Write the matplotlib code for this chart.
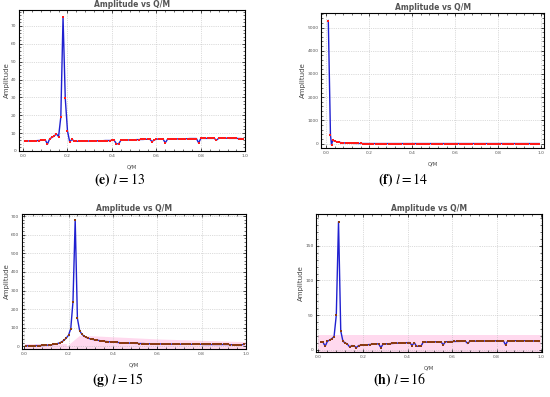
import numpy as np
import matplotlib.pyplot as plt
from matplotlib.ticker import AutoMinorLocator

# Q/M sample positions (0.01 .. 0.99)
qm = [round(0.01 * i, 2) for i in range(1, 100)]

# (e) l = 13
amp_13 = [5.5, 5.5, 5.6, 5.6, 5.7, 5.7, 5.8, 5.9, 6.0, 6.1,
          3.8, 6.8, 7.5, 8.3, 9.5, 8.0, 19.0, 75.0, 29.5, 11.2,
          5.0, 6.5, 5.5, 5.4, 5.4, 5.4, 5.5, 5.5, 5.5, 5.5,
          5.6, 5.6, 5.6, 5.7, 5.7, 5.7, 5.8, 5.8, 5.8, 5.9,
          5.9, 4.0, 3.9, 5.9, 6.0, 6.0, 6.1, 6.1, 6.2, 6.2,
          6.3, 6.3, 6.4, 6.4, 6.5, 6.5, 6.6, 5.2, 6.0, 6.6,
          6.6, 6.6, 6.6, 4.5, 6.5, 6.6, 6.6, 6.7, 6.7, 6.7,
          6.8, 6.8, 6.8, 6.8, 6.9, 6.9, 6.9, 6.9, 4.5, 7.0,
          7.0, 7.0, 7.0, 7.0, 7.0, 7.0, 6.0, 7.0, 7.1, 7.1,
          7.1, 7.1, 7.0, 7.0, 7.0, 7.0, 6.9, 6.9, 6.8]

# (f) l = 14  (extra point at 0.025 where the curve dips)
qm_14 = [0.01, 0.02, 0.025] + qm[2:]
amp_14 = [5300, 380, -60, 140, 110, 80, 60, 45, 35, 28,
          22, 18, 15, 12, 10, 9, 8, 7, 6.5, 6,
          5.5, 5.2, 5, 5, 5, 5, 5, 5, 5, 5,
          5, 5, 5, 5, 5, 5, 5, 5, 5, 5,
          5, 5, 5, 5, 5, 5, 5, 5, 5, 5,
          5, 5, 5, 5, 5, 5, 5, 5, 5, 5,
          5, 5, 5, 5, 5, 5, 5, 5, 5, 5,
          5, 5, 5, 5, 5, 5, 5, 5, 5, 5,
          5, 5, 5, 5, 5, 5, 5, 5, 5, 5,
          5, 5, 5, 5, 5, 5, 5, 5, 5, 5]

# (g) l = 15
amp_15 = [3, 3, 3, 3, 4, 4, 4, 5, 5, 6,
          7, 8, 10, 12, 15, 19, 25, 33, 45, 60,
          95, 240, 680, 150, 85, 65, 55, 48, 43, 40,
          37, 35, 33, 31, 29, 27, 26, 25, 24, 23,
          22, 21, 20, 19, 19, 18, 18, 17, 17, 16,
          16, 15, 15, 15, 14, 14, 14, 14, 13, 13,
          13, 13, 13, 12, 12, 12, 12, 12, 12, 12,
          11, 11, 11, 11, 11, 11, 11, 11, 11, 11,
          10, 10, 10, 10, 10, 10, 10, 10, 10, 10,
          10, 10, 9, 9, 9, 9, 9, 9, 10]

# (h) l = 16
amp_16 = [11, 11, 5, 12, 14, 16, 19, 50, 185, 27,
          12, 10, 8, 4, 6, 5.5, 3, 6, 6.3, 6.6,
          7, 7.2, 7.5, 7.8, 8, 8.3, 8.6, 3, 8.2, 8.4,
          8.6, 8.8, 9, 9.2, 9.4, 9.6, 9.8, 10, 10, 10.2,
          10.3, 6, 10.3, 5, 5, 5, 10.8, 11, 11, 11.1,
          11.2, 11.3, 11.4, 11.5, 11.5, 7, 11.5, 11.6, 11.7, 11.8,
          11.9, 12, 12, 12.1, 12.1, 12.2, 9, 12.3, 12.3, 12.4,
          12.4, 12.5, 12.5, 12.6, 12.6, 12.7, 12.7, 12.7, 12.8, 12.8,
          12.8, 12.9, 12.9, 7, 12.9, 13, 13, 13, 13, 13,
          13, 13, 12.9, 12.9, 12.8, 12.7, 12.5, 12.3, 12]

xticks = [0.0, 0.2, 0.4, 0.6, 0.8, 1.0]

panels = [
    dict(x=qm, y=amp_13, rect=[0.035, 0.620, 0.411, 0.355], ylim=(0, 79),
         yticks=[0, 10, 20, 30, 40, 50, 60, 70], xlim=(-0.017, 1.0),
         mc='#ff1a1a', cap=(0.217, 0.549), tag='e', l=13, band=None),
    dict(x=qm_14, y=amp_14, rect=[0.584, 0.627, 0.405, 0.340], ylim=(-190, 5620),
         yticks=[0, 1000, 2000, 3000, 4000, 5000], xlim=(-0.023, 1.012),
         mc='#ff1a1a', cap=(0.733, 0.549), tag='f', l=14, band=None),
    dict(x=qm, y=amp_15, rect=[0.040, 0.121, 0.407, 0.340], ylim=(-14, 711),
         yticks=[0, 100, 200, 300, 400, 500, 600, 700], xlim=(-0.01, 1.0),
         mc='#8a3a12', cap=(0.215, 0.043), tag='g', l=15,
         band=([0.0, 0.19, 0.19, 0.25, 0.6, 1.0], [15, 15, 0, 60, 40, 25])),
    dict(x=qm, y=amp_16, rect=[0.575, 0.113, 0.411, 0.348], ylim=(-3.5, 196),
         yticks=[0, 50, 100, 150], xlim=(-0.01, 1.005),
         mc='#8a3a12', cap=(0.727, 0.043), tag='h', l=16,
         band=([0.0, 1.0], [21, 21])),
]

plt.rcParams['mathtext.fontset'] = 'stix'
fig = plt.figure(figsize=(5.5, 3.97), dpi=100)

for p in panels:
    ax = fig.add_axes(p['rect'])
    if p['band'] is not None:
        bx, by = p['band']
        ax.fill_between(bx, -50, by, color='#ffd9ee', lw=0, zorder=0)
    ax.plot(p['x'], p['y'], color='#2020d0', lw=1.0, zorder=2)
    ax.plot(p['x'], p['y'], 's', color=p['mc'], ms=1.6, mew=0, zorder=3)
    ax.set_xlim(*p['xlim'])
    ax.set_ylim(*p['ylim'])
    ax.set_xticks(xticks)
    ax.set_xticklabels(['%.1f' % t for t in xticks])
    ax.set_yticks(p['yticks'])
    ax.xaxis.set_minor_locator(AutoMinorLocator(5))
    ax.yaxis.set_minor_locator(AutoMinorLocator(5))
    ax.tick_params(which='both', direction='in', top=True, right=True,
                   labelsize=3.2, labelcolor='#555555', pad=2)
    ax.tick_params(which='major', length=2.5, width=0.5)
    ax.tick_params(which='minor', length=1.2, width=0.4)
    ax.grid(True, ls=':', lw=0.5, color='#bbbbbb')
    for s in ax.spines.values():
        s.set_linewidth(0.8)
    ax.set_title('Amplitude vs Q/M', fontsize=5.5, color='#555555',
                 fontweight='bold', pad=2)
    ax.set_ylabel('Amplitude', fontsize=5, color='#444444', labelpad=1)
    ax.set_xlabel('Q/M', fontsize=3.8, color='#444444', labelpad=5)
    fig.text(p['cap'][0], p['cap'][1],
             r'$\mathbf{(%s)}\ l = %d$' % (p['tag'], p['l']),
             ha='center', va='center', fontsize=10)

fig.savefig('out.png', dpi=100)
